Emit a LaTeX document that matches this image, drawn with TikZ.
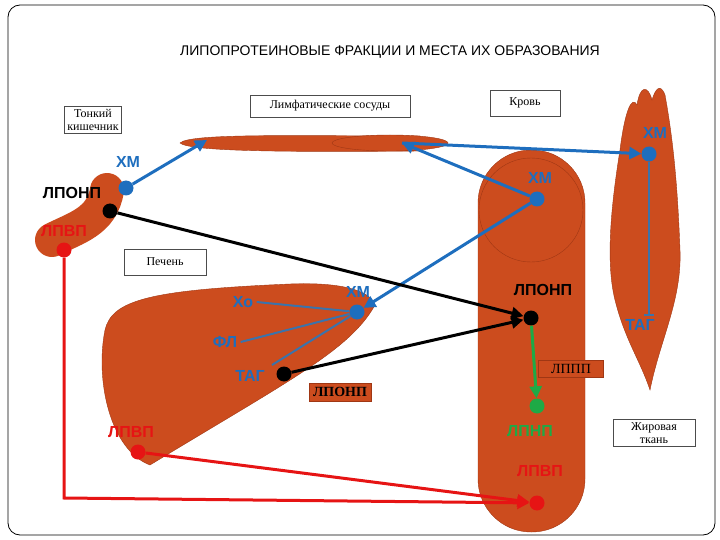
\documentclass[tikz,border=0pt]{standalone}
\usepackage{fontspec}
\setmainfont{Liberation Serif}
\newfontfamily\sfx{Liberation Sans}
\usetikzlibrary{arrows.meta}
\definecolor{org}{RGB}{204,76,30}
\definecolor{dorg}{RGB}{160,55,20}
\definecolor{bl}{RGB}{30,110,190}
\definecolor{gr}{RGB}{30,170,70}
\definecolor{rd}{RGB}{230,20,20}
\begin{document}
\begin{tikzpicture}[x=1pt,y=-1pt,
 lbl/.style={font=\sfx\bfseries\fontsize{16}{16}\selectfont},
 box/.style={draw=black!70,fill=white,font=\fontsize{12}{13}\selectfont,align=center,inner sep=3pt},
 obox/.style={draw=dorg,fill=org,font=\bfseries\fontsize{14}{14}\selectfont,inner sep=4pt},
 dot/.style={circle,inner sep=0pt,minimum size=15pt},
 org/.style={fill=org,draw=dorg},
 arr/.style={line width=3pt,-{Triangle[length=12pt,width=12pt]}}]
\useasboundingbox (0,0) rectangle (720,540);
\draw[rounded corners=12pt,line width=0.8pt] (8,5) rectangle (715,535);
\node[font=\sfx\fontsize{14}{14}\selectfont] (title) at (390,52) {ЛИПОПРОТЕИНОВЫЕ ФРАКЦИИ И МЕСТА ИХ ОБРАЗОВАНИЯ};
% shapes
\draw[org] (180,143) .. controls (190,133) and (300,136) .. (420,136) -- (420,151) .. controls (300,152) and (190,152) .. (180,143) -- cycle;
\draw[org] (390,143) ellipse (58 and 8);
\draw[line width=34pt,draw=org,line cap=round] (107,190) .. controls (102,222) and (75,228) .. (52,240);
\draw[org,rounded corners=53pt] (478,150) rectangle (585,532);
\draw[draw=dorg,fill=org] (531,210) circle (52);
\draw[org] (620,150) .. controls (612,200) and (605,260) .. (615,300) .. controls (625,340) and (640,360) .. (650,390) .. controls (660,340) and (682,300) .. (680,250) .. controls (678,200) and (675,150) .. (665,95) .. controls (660,82) and (655,90) .. (652,100) .. controls (648,85) and (640,85) .. (637,105) .. controls (632,95) and (625,110) .. (620,150) -- cycle;
\draw[org] (150,465) .. controls (110,450) and (95,380) .. (105,330) .. controls (112,300) and (150,290) .. (290,284) .. controls (340,282) and (370,290) .. (375,305) .. controls (350,350) and (290,380) .. (150,465) -- cycle;
% label boxes
\node[box] (tk) at (93,120) {Тонкий\\кишечник};
\node[box,minimum width=160pt,minimum height=22pt] (ls) at (330,106) {Лимфатические сосуды};
\node[box,minimum width=70pt,minimum height=26pt] (kr) at (525,103) {Кровь};
\node[box,minimum width=82pt,minimum height=26pt] (pe) at (165,262) {Печень};
\node[box,minimum width=82pt] (zt) at (654,433) {Жировая\\ткань};
\node[obox] (bx1) at (340,392) {ЛПОНП};
\node[obox,font=\fontsize{14}{14}\selectfont,minimum width=65pt] (bx2) at (571,369) {ЛППП};
% dots
\node[dot,fill=bl] (ixm) at (126,188) {};
\node[dot,fill=black] (ilp) at (110,211) {};
\node[dot,fill=rd] (ihd) at (64,250) {};
\node[lbl,text=bl] at (128,162) {ХМ};
\node[lbl] at (72,193) {ЛПОНП};
\node[lbl,text=rd] at (64,231) {ЛПВП};
\coordinate (l1) at (207,140);
\coordinate (l2) at (402,143);
\node[dot,fill=bl] (bxm) at (537,199) {};
\node[lbl,text=bl] at (540,178) {ХМ};
\node[dot,fill=bl] (axm) at (649,154) {};
\node[lbl,text=bl] at (655,133) {ХМ};
\node[dot,fill=bl] (lxm) at (357,312) {};
\node[lbl,text=bl] at (358,292) {ХМ};
\node[lbl,text=bl] (xo) at (243,302) {Хо};
\node[lbl,text=bl] (fl) at (225,342) {ФЛ};
\node[lbl,text=bl] (tg) at (250,376) {ТАГ};
\node[dot,fill=black] (ltg) at (284,374) {};
\node[dot,fill=black] (blp) at (531,318) {};
\node[lbl] at (543,290) {ЛПОНП};
\node[dot,fill=gr] (bld) at (537,406) {};
\node[lbl,text=gr] at (530,431) {ЛПНП};
\node[lbl,text=rd] at (131,432) {ЛПВП};
\node[dot,fill=rd] (lhd) at (138,452) {};
\node[dot,fill=rd] (bhd) at (537,503) {};
\node[lbl,text=rd] at (540,471) {ЛПВП};
\node[lbl,text=bl] (atg) at (640,325) {ТАГ};
\coordinate (rc) at (64,498);
% connectors
\draw[arr,draw=bl] (ixm) -- (l1);
\draw[arr,draw=bl] (l2) -- (axm);
\draw[arr,draw=bl,{Triangle[length=12pt,width=12pt]}-] (l2) -- (bxm);
\draw[arr,draw=bl] (bxm) -- (lxm);
\draw[line width=2pt,draw=bl!70!gray] (lxm) -- (xo.east) (lxm) -- (fl.east) (lxm) -- (272,365);
\draw[arr] (ilp) -- (blp);
\draw[arr] (ltg) -- (blp);
\draw[arr,draw=gr] (blp) -- (bld);
\draw[arr,draw=rd] (lhd) -- (bhd);
\draw[arr,draw=rd] (ihd) -- (rc) -- (bhd);
\draw[line width=1.5pt,draw=bl!70!gray] (axm) -- (649,315) (644,315) -- (654,315);
\end{tikzpicture}
\end{document}
